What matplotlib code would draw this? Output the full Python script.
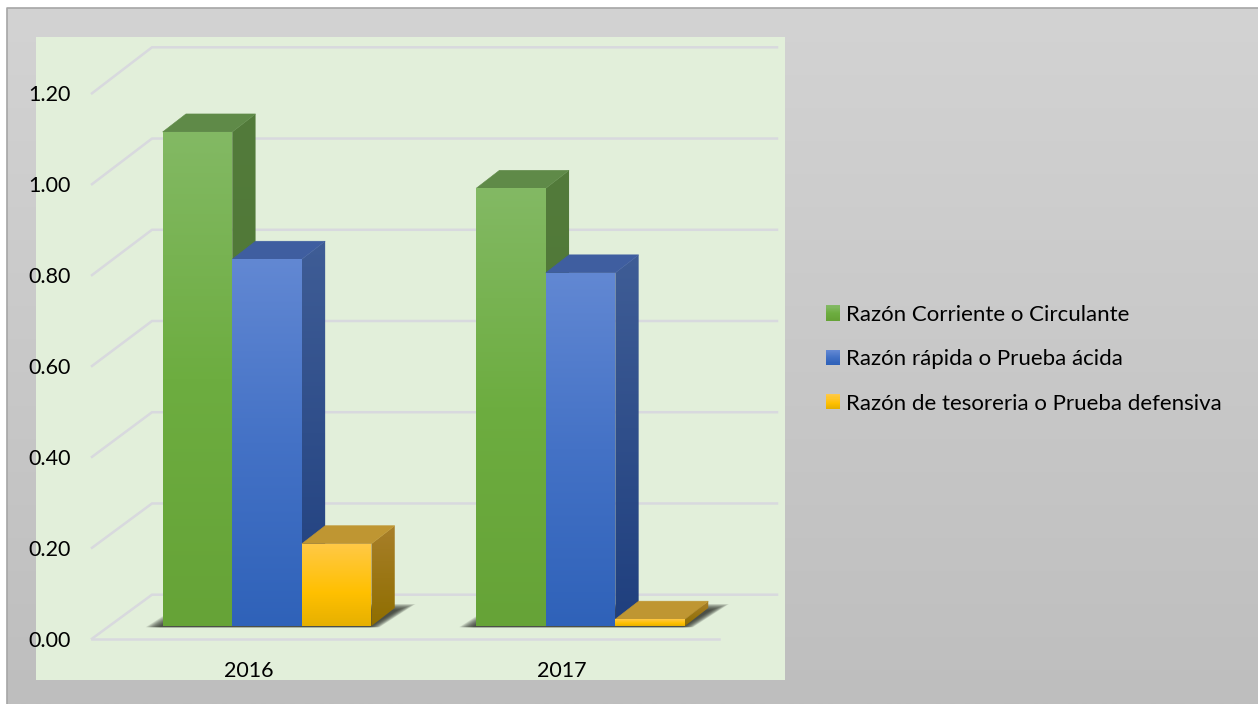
import matplotlib
matplotlib.use("Agg")
import matplotlib.pyplot as plt
import numpy as np
from matplotlib.colors import LinearSegmentedColormap
from matplotlib.legend_handler import HandlerBase
from matplotlib.patches import Patch, Polygon, Rectangle

years = ["2016", "2017"]
series_names = ["Razón Corriente o Circulante", "Razón rápida o Prueba ácida",
                "Razón de tesoreria o Prueba defensiva"]
corriente = [1.087, 0.963]
rapida = [0.807, 0.777]
tesoreria = [0.181, 0.015]
y_ticks = [0.0, 0.2, 0.4, 0.6, 0.8, 1.0, 1.2]

front_stops = [[(0, "#83b964"), (0.5, "#6dad40"), (1, "#66a337")],
               [(0, "#6288d3"), (0.5, "#4472c6"), (1, "#2f62b9")],
               [(0, "#ffc947"), (0.6, "#ffc000"), (1, "#e6b000")]]
side_stops = [["#537b3b", "#4c7531"], ["#3f5d96", "#1f3f7e"], ["#a87f2a", "#8f6e00"]]
top_colors = ["#5f8a48", "#3f5ea0", "#bf9632"]

W, H = 1258, 704
plt.rcParams["font.family"] = ["Lato", "DejaVu Sans"]
fig = plt.figure(figsize=(W / 100, H / 100), dpi=100, facecolor="white")

bg = fig.add_axes([0, 0, 1, 1], zorder=0)
bg.axis("off")
bg_cmap = LinearSegmentedColormap.from_list("bg", ["#d3d3d3", "#bebebe"])
bg.imshow(np.linspace(0, 1, 256).reshape(-1, 1), cmap=bg_cmap, aspect="auto",
          extent=[6.5, W, H, 8], interpolation="bilinear")
bg.set_xlim(0, W)
bg.set_ylim(H, 0)
bg.plot([6.5, 6.5, W], [H, 8, 8], color="#a6a6a6", lw=1.2)
bg.add_patch(Rectangle((36, 37), 749, 643, facecolor="#e2efda", edgecolor="none"))

L, R, T, B = 92, 719, 93.3, 638.7
ax = fig.add_axes([L / W, 1 - B / H, (R - L) / W, (B - T) / H], zorder=1)
ax.patch.set_alpha(0)
ax.set_xlim(0, 2)
ax.set_ylim(0, 1.2)
for s in ax.spines.values():
    s.set_visible(False)
PX = 2 / (R - L)
PY = 1.2 / (B - T)

ax.set_yticks(y_ticks)
ax.set_yticklabels([f"{v:.2f}" for v in y_ticks], fontsize=15.5, color="black")
ax.set_xticks([0.5, 1.5])
ax.set_xticklabels(years, fontsize=15.5, color="black")
ax.tick_params(axis="y", length=0, pad=15)
ax.tick_params(axis="x", length=0, pad=16)

wall_dx = 60 * PX
grid_color = "#d8d9de"
for v in y_ticks:
    wall_dy = (44 + 2 * v / 1.2) * PY
    ax.plot([0, wall_dx, 2 + wall_dx - 2 * PX], [v, v + wall_dy, v + wall_dy],
            color=grid_color, lw=1.8, clip_on=False, zorder=1, solid_joinstyle="miter")
ax.plot([0, 2], [0, 0], color=grid_color, lw=1.8, clip_on=False, zorder=1)

bar_w = 69.6 * PX
off_x, base = 18.3 * PX, 12.7 * PY
dep_x, dep_y = 23.3 * PX, 18 * PY
zo = [5]


def face(verts, stops):
    verts = np.array(verts)
    cmap = LinearSegmentedColormap.from_list("f", stops)
    im = ax.imshow(np.linspace(0, 1, 256).reshape(-1, 1), cmap=cmap, aspect="auto",
                   extent=[verts[:, 0].min(), verts[:, 0].max(), verts[:, 1].min(), verts[:, 1].max()],
                   interpolation="bilinear", zorder=zo[0])
    clip = Polygon(verts, closed=True, transform=ax.transData, facecolor="none", edgecolor="none")
    ax.add_patch(clip)
    clip.set_clip_on(False)
    im.set_clip_path(clip)
    zo[0] += 1


values = [corriente, rapida, tesoreria]
for c in range(len(years)):
    x0 = c + 0.5 + off_x - 1.5 * bar_w
    x_end = x0 + 3 * bar_w
    n = 14
    for i in range(n):
        t = i / (n - 1)
        yb = base - 1.2 * PY
        yt = base + (22 - 6 * t) * PY
        xs = x0 - 17 * PX + t * 14 * PX
        xe = x_end + 8 * PX - t * 10 * PX
        ax.add_patch(Polygon([(xs, yb), (xe, yb), (xe + (36 - 8 * t) * PX, yt), (xs + (36 - 8 * t) * PX, yt)],
                             closed=True, facecolor="#2e312b", edgecolor="none",
                             alpha=0.115, zorder=3, clip_on=False))
    for s, vals in enumerate(values):
        xl = x0 + s * bar_w
        xr = xl + bar_w
        y1 = base + vals[c]
        face([(xr, base), (xr + dep_x, base + dep_y), (xr + dep_x, y1 + dep_y), (xr, y1)],
             [side_stops[s][0], side_stops[s][1]])
        ax.add_patch(Polygon([(xl, y1), (xr, y1), (xr + dep_x, y1 + dep_y), (xl + dep_x, y1 + dep_y)],
                             closed=True, facecolor=top_colors[s], edgecolor=top_colors[s], lw=0.4,
                             zorder=zo[0], clip_on=False))
        zo[0] += 1
        face([(xl, base), (xr, base), (xr, y1), (xl, y1)], front_stops[s])

ax.set_xlim(0, 2)
ax.set_ylim(0, 1.2)


class GradientBox(HandlerBase):
    def create_artists(self, legend, orig, xd, yd, width, height, fontsize, trans):
        cmap = LinearSegmentedColormap.from_list("l", orig.stops)
        n = 14
        out = []
        for i in range(n):
            out.append(Rectangle((-xd, -yd + height * (1 - (i + 1) / n)), width, height / n + 0.3,
                                 facecolor=cmap(i / (n - 1)), edgecolor="none", transform=trans))
        return out


handles = []
for s, name in enumerate(series_names):
    h = Patch(label=name)
    h.stops = front_stops[s]
    handles.append(h)
leg = fig.legend(handles=handles, loc="upper left", bbox_to_anchor=(826 / W, 1 - 305 / H),
                 frameon=False, fontsize=16, labelspacing=1.1, handlelength=0.64,
                 handleheight=0.64, handletextpad=0.26, borderpad=0, borderaxespad=0,
                 handler_map={Patch: GradientBox()}, labelcolor="black")
leg.set_zorder(3)

fig.savefig("out.png", dpi=100, facecolor="white")
